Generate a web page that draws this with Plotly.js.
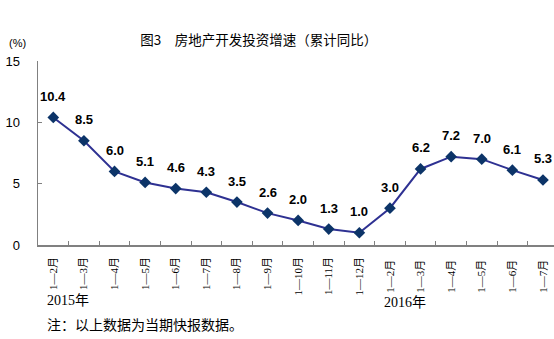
<!DOCTYPE html>
<html>
<head>
<meta charset="utf-8">
<script src="https://cdn.plot.ly/plotly-3.0.1.min.js"></script>
<style>html,body{margin:0;padding:0;background:#fff;}#chart{width:554px;height:339px;}</style>
</head>
<body>
<div id="chart"></div>
<script>
var categories = ["1—2月","1—3月","1—4月","1—5月","1—6月","1—7月","1—8月","1—9月","1—10月","1—11月","1—12月","1—2月 ","1—3月 ","1—4月 ","1—5月 ","1—6月 ","1—7月 "];
var growth = [10.4, 8.5, 6.0, 5.1, 4.6, 4.3, 3.5, 2.6, 2.0, 1.3, 1.0, 3.0, 6.2, 7.2, 7.0, 6.1, 5.3];
var yTicks = [0, 5, 10, 15];
var yearLabels = ["2015年", "2016年"];

var serif = "'Liberation Serif', 'Noto Sans CJK SC', serif";
var sans = "'Liberation Sans', Arial, 'Noto Sans CJK SC', sans-serif";

var trace = {
  x: categories,
  y: growth,
  type: 'scatter',
  mode: 'lines+markers',
  line: {color: 'rgb(46,49,146)', width: 2},
  marker: {symbol: 'diamond', size: 9, color: 'rgb(12,52,104)'},
  hoverinfo: 'none'
};

var annotations = growth.map(function(v, i) {
  return {
    x: categories[i], y: v, xref: 'x', yref: 'y',
    text: v.toFixed(1), showarrow: false,
    yshift: 21, xanchor: 'center', yanchor: 'middle',
    font: {family: sans, size: 13, color: '#000', weight: 'bold'}
  };
});

annotations.push({
  xref: 'paper', yref: 'paper', x: -0.06, y: 1.10,
  text: '(%)', showarrow: false, xanchor: 'left', yanchor: 'middle',
  font: {family: sans, size: 11, color: '#000'}
});
annotations.push({
  xref: 'x', yref: 'paper', x: categories[0], y: -0.30,
  text: yearLabels[0], showarrow: false, xanchor: 'center', yanchor: 'middle', xshift: 15,
  font: {family: serif, size: 14, color: '#000'}
});
annotations.push({
  xref: 'x', yref: 'paper', x: categories[11], y: -0.315,
  text: yearLabels[1], showarrow: false, xanchor: 'center', yanchor: 'middle', xshift: 15,
  font: {family: serif, size: 14, color: '#000'}
});
annotations.push({
  xref: 'paper', yref: 'paper', x: 0.014, y: -0.435,
  text: '注：以上数据为当期快报数据。', showarrow: false, xanchor: 'left', yanchor: 'middle',
  font: {family: serif, size: 14, color: '#000'}
});

var layout = {
  width: 554, height: 339,
  margin: {l: 38, r: 0, t: 61, b: 94},
  paper_bgcolor: '#fff', plot_bgcolor: '#fff',
  showlegend: false,
  title: {
    text: '图3　房地产开发投资增速（累计同比）',
    x: 0.467, xanchor: 'center', y: 0.882, yanchor: 'middle',
    font: {family: "'Noto Sans CJK SC', sans-serif", size: 13.5, color: '#000'}
  },
  xaxis: {
    type: 'category',
    range: [-0.5, 16.36],
    showline: true, linecolor: '#808080', linewidth: 1.5,
    ticks: 'inside', tickson: 'boundaries', ticklen: 4, tickcolor: '#808080',
    tickangle: -90,
    tickfont: {family: serif, size: 11, color: '#000'},
    ticklabelstandoff: 6,
    showgrid: false, zeroline: false, fixedrange: true
  },
  yaxis: {
    range: [0, 15],
    tickvals: yTicks,
    showline: true, linecolor: '#808080', linewidth: 1.5,
    ticks: 'inside', ticklen: 4, tickcolor: '#808080',
    tickfont: {family: sans, size: 13, color: '#000'},
    ticklabelstandoff: 14,
    showgrid: false, zeroline: false, fixedrange: true
  },
  annotations: annotations
};

Plotly.newPlot('chart', [trace], layout, {staticPlot: true, displayModeBar: false});
</script>
</body>
</html>
